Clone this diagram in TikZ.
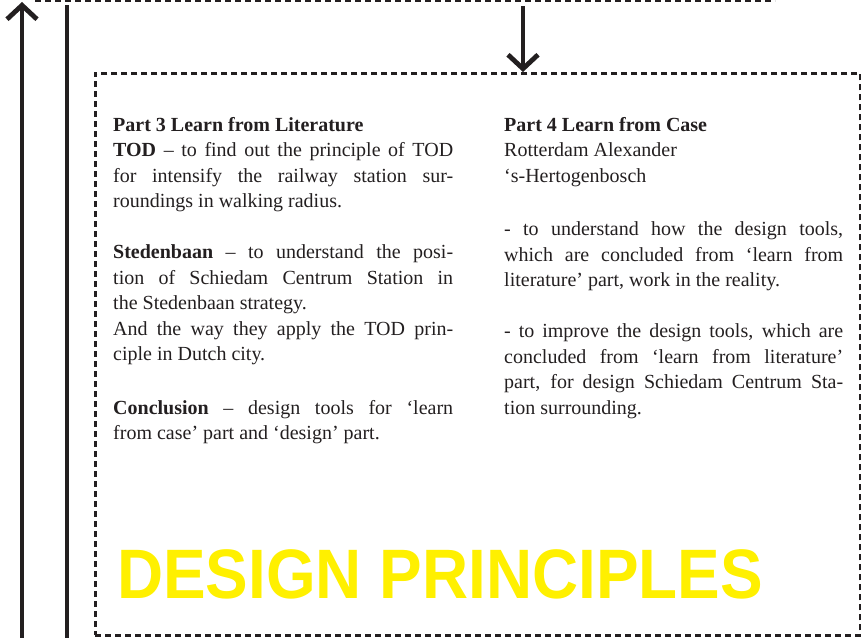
\documentclass[tikz,border=0pt]{standalone}
\usepackage{fontspec}
\setmainfont{Liberation Serif}
\newfontfamily\headfont[FakeStretch=0.912]{Liberation Sans}
\usetikzlibrary{arrows.meta,positioning}
\definecolor{signyellow}{RGB}{255,240,0}
\definecolor{inkblack}{RGB}{35,31,32}

\begin{document}
\begin{tikzpicture}[x=1pt,y=-1pt,
  flowline/.style={line width=4.8pt,color=inkblack},
  barb/.style={-{Straight Barb[length=14pt,width=30pt]}},
  dashbox/.style={line width=2.8pt,color=inkblack,dash pattern=on 6pt off 4pt},
  coltext/.style={inner sep=0pt,text width=340pt,align=justify,anchor=north west,
    text=inkblack,font=\fontsize{20}{25.5}\selectfont}]
\useasboundingbox (0,0) rectangle (861,637);

\draw[dashbox] (35,0.8) -- (775,0.8);

\node[draw,dashbox,minimum width=765pt,minimum height=562pt,anchor=north west] (box) at (94,72) {};

\coordinate (leftbot) at (22,640);
\coordinate (lefttop) at (22,2);
\draw[flowline,barb] (leftbot) -- (lefttop);

\coordinate (railbot) at (67,640);
\coordinate (railtop) at (67,5);
\draw[flowline] (railbot) -- (railtop);

\coordinate (downstart) at (523,6);
\draw[flowline,barb] (downstart) -- (downstart |- box.north);

\node[coltext] (lit) at (113,117) {%
\textbf{Part 3 Learn from Literature}\\
\textbf{TOD} -- to find out the principle of TOD\linebreak
for intensify the railway station sur-\linebreak
roundings in walking radius.\par\vspace{25.5pt}
\textbf{Stedenbaan} -- to understand the posi-\linebreak
tion of Schiedam Centrum Station in\linebreak
the Stedenbaan strategy.\\
And the way they apply the TOD prin-\linebreak
ciple in Dutch city.\par\vspace{28pt}
\textbf{Conclusion} -- design tools for `learn\linebreak
from case' part and `design' part.};

\node[coltext,text width=339pt] (case) at (504,117) {%
\textbf{Part 4 Learn from Case}\\
Rotterdam Alexander\\
`s-Hertogenbosch\par\vspace{28pt}
- to understand how the design tools,\linebreak
which are concluded from `learn from\linebreak
literature' part, work in the reality.\par\vspace{25.5pt}
- to improve the design tools, which are\linebreak
concluded from `learn from literature'\linebreak
part, for design Schiedam Centrum Sta-\linebreak
tion surrounding.};

\node[anchor=base west,inner sep=0pt,text=signyellow,
  font=\headfont\bfseries\fontsize{70}{70}\selectfont] (title) at (117,598) {DESIGN PRINCIPLES};
\end{tikzpicture}
\end{document}
